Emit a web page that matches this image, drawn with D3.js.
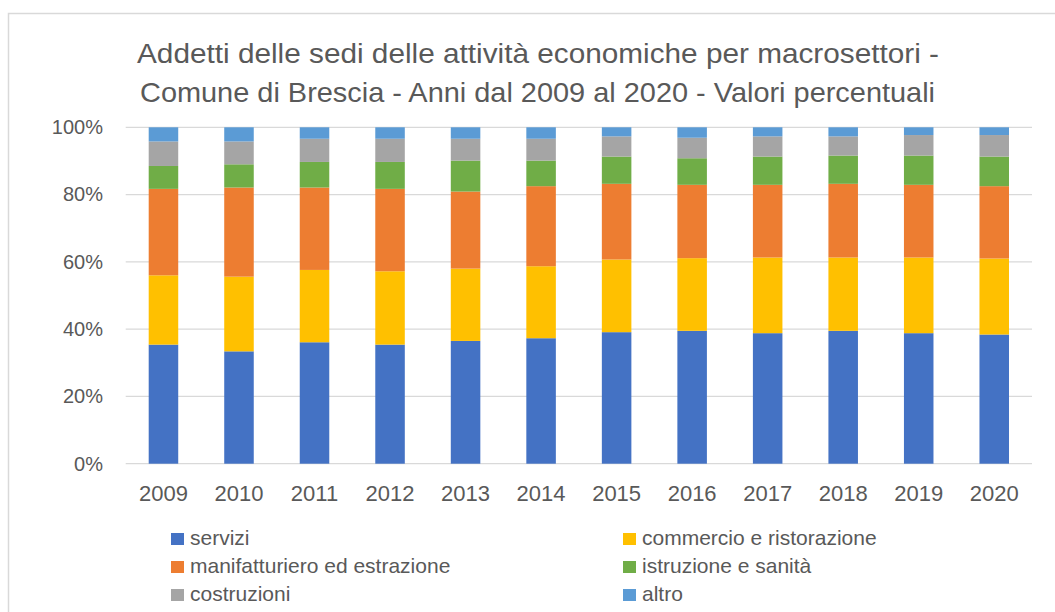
<!DOCTYPE html>
<html>
<head>
<meta charset="utf-8">
<script src="https://cdn.jsdelivr.net/npm/d3@7"></script>
<style>
  html, body { margin: 0; padding: 0; background: #ffffff; }
  svg { display: block; }
  text { font-family: "Liberation Sans", Arial, sans-serif; fill: #595959; }
</style>
</head>
<body>
<svg id="chart" width="1055" height="612"></svg>
<script>
const years = ["2009","2010","2011","2012","2013","2014","2015","2016","2017","2018","2019","2020"];
const seriesNames = ["servizi","commercio e ristorazione","manifatturiero ed estrazione","istruzione e sanità","costruzioni","altro"];
const servizi      = [35.4, 33.4, 36.1, 35.4, 36.5, 37.3, 39.1, 39.5, 38.8, 39.5, 38.8, 38.4];
const commercio    = [20.6, 22.2, 21.5, 21.8, 21.5, 21.4, 21.6, 21.6, 22.5, 21.8, 22.5, 22.6];
const manifattura  = [25.7, 26.5, 24.5, 24.5, 22.9, 23.8, 22.5, 21.8, 21.6, 21.9, 21.6, 21.5];
const istruzione   = [ 6.8,  6.9,  7.6,  8.0,  9.2,  7.6,  8.1,  7.9,  8.4,  8.4,  8.7,  8.8];
const costruzioni  = [ 7.3,  6.8,  6.9,  6.9,  6.5,  6.5,  6.0,  6.1,  6.0,  5.7,  6.1,  6.4];
const altro        = [ 4.2,  4.2,  3.4,  3.4,  3.4,  3.4,  2.7,  3.1,  2.7,  2.7,  2.3,  2.3];
const yTicks = [0, 0.2, 0.4, 0.6, 0.8, 1.0];
const titleLines = ["Addetti delle sedi delle attività economiche per macrosettori -",
                    "Comune di Brescia - Anni dal 2009 al 2020 - Valori percentuali"];
const colors = ["#4472C4", "#FFC000", "#ED7D31", "#70AD47", "#A5A5A5", "#5B9BD5"];

const seriesValues = [servizi, commercio, manifattura, istruzione, costruzioni, altro];
const rows = years.map((y, i) => {
  const r = { year: y };
  seriesNames.forEach((s, k) => r[s] = seriesValues[k][i]);
  return r;
});

const svg = d3.select("#chart");

// chart border
svg.append("rect").attr("x", 8.5).attr("y", 13.5).attr("width", 1100).attr("height", 700)
  .attr("fill", "none").attr("stroke", "#d9d9d9").attr("stroke-width", 1.5);

const plotLeft = 125.7, plotRight = 1032, plotTop = 127.3, plotBottom = 463.7;

const x = d3.scaleBand().domain(years).range([plotLeft, plotRight])
  .paddingInner(0.609).paddingOuter(0.3045);
const y = d3.scaleLinear().domain([0, 1]).range([plotBottom, plotTop]);

// gridlines
svg.append("g").selectAll("line").data(yTicks).join("line")
  .attr("x1", plotLeft).attr("x2", plotRight)
  .attr("y1", d => y(d)).attr("y2", d => y(d))
  .attr("stroke", "#d9d9d9").attr("stroke-width", 1.3);

// y axis labels
const yAxis = d3.axisLeft(y).tickValues(yTicks).tickFormat(d3.format(".0%")).tickSize(0).tickPadding(0);
const gy = svg.append("g").attr("transform", `translate(103,0)`).call(yAxis);
gy.select(".domain").remove();
gy.selectAll("text").attr("font-size", 20).attr("fill", "#595959")
  .style("font-family", "'Liberation Sans', Arial, sans-serif");

// stacked bars
const stack = d3.stack().keys(seriesNames).value((d, k) => d[k] / 100);
const stacked = stack(rows);
svg.append("g").selectAll("g").data(stacked).join("g")
  .attr("fill", (d, i) => colors[i])
  .selectAll("rect").data(d => d).join("rect")
  .attr("x", d => x(d.data.year))
  .attr("width", x.bandwidth())
  .attr("y", d => y(d[1]))
  .attr("height", d => y(d[0]) - y(d[1]));

// x axis labels
const xAxis = d3.axisBottom(x).tickSize(0).tickPadding(0);
const gx = svg.append("g").attr("transform", `translate(0,${plotBottom + 22})`).call(xAxis);
gx.select(".domain").remove();
gx.selectAll("text").attr("font-size", 22).attr("fill", "#595959")
  .style("font-family", "'Liberation Sans', Arial, sans-serif");

// title
const titleWidths = [802, 795];
const titleCenters = [538, 537.5];
const titleBase = [63, 101.7];
titleLines.forEach((t, i) => {
  svg.append("text")
    .attr("x", titleCenters[i]).attr("y", titleBase[i])
    .attr("text-anchor", "middle")
    .attr("font-size", 27.5)
    .attr("textLength", titleWidths[i])
    .attr("lengthAdjust", "spacingAndGlyphs")
    .text(t);
});

// legend
const legendCols = [171, 623];
const legendRows = [533, 561, 589];
const legend = svg.append("g");
seriesNames.forEach((s, i) => {
  const cx = legendCols[i % 2], cy = legendRows[Math.floor(i / 2)];
  legend.append("rect").attr("x", cx).attr("y", cy).attr("width", 13).attr("height", 12).attr("fill", colors[i]);
  legend.append("text").attr("x", cx + 19).attr("y", cy + 12).attr("font-size", 21).text(s);
});
</script>
</body>
</html>
